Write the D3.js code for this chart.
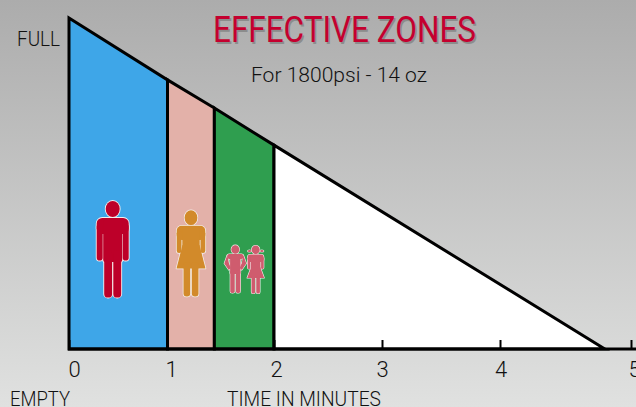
<!DOCTYPE html>
<html>
  <head>
    <meta charset="utf-8" />
    <script src="https://cdn.jsdelivr.net/npm/d3@7"></script>
    <style>
      html, body { margin: 0; padding: 0; }
      svg { display: block; }
      text { font-family: Roboto, "Liberation Sans", sans-serif; font-weight: 300; }
    </style>
  </head>
  <body>
    <div id="container"></div>
    <script>
      // values
      const timeTicks = [0, 1, 2, 3, 4, 5];
      const zoneTimes = [0, 1, 1.44, 2, 4.8];
      const zoneLevels = [100, 81.3, 72.8, 61.6, 0];
      const zoneColors = ["#3ea6e8", "#e3b1a9", "#2f9e4f", "#ffffff"];

      const W = 636, H = 407;
      const svg = d3.select("#container").append("svg").attr("width", W).attr("height", H);

      const defs = svg.append("defs");
      const bg = defs.append("linearGradient").attr("id", "bg").attr("x1", 0).attr("y1", 0).attr("x2", 0).attr("y2", 1);
      bg.append("stop").attr("offset", "0%").attr("stop-color", "#acacac");
      bg.append("stop").attr("offset", "100%").attr("stop-color", "#e0e1e0");
      svg.append("rect").attr("width", W).attr("height", H).attr("fill", "url(#bg)");

      // the tick spacing in the original is not even
      const x = d3.scaleLinear().domain(timeTicks).range([69, 167.5, 274, 382, 500, 631]);
      const y = d3.scaleLinear().domain([0, 100]).range([349, 18]);

      const zones = zoneColors.map((c, i) => ({ color: c, i }));
      const area = (i) =>
        d3.area().x((d) => x(d[0])).y0(y(0)).y1((d) => y(d[1]))([
          [zoneTimes[i], zoneLevels[i]],
          [zoneTimes[i + 1], zoneLevels[i + 1]],
        ]);

      svg.append("g").selectAll("path").data(zones).enter().append("path")
        .attr("d", (d) => area(d.i))
        .attr("fill", (d) => d.color)
        .attr("stroke", "#000")
        .attr("stroke-width", 3)
        .attr("stroke-linejoin", "miter");

      const xAxis = d3.axisBottom(x).tickValues(timeTicks).tickSizeInner(-9).tickSizeOuter(0).tickPadding(11).tickFormat(d3.format("d"));
      const axisG = svg.append("g").attr("transform", `translate(0,${y(0)})`).call(xAxis);
      axisG.select(".domain").remove();
      axisG.append("line").attr("x1", 68).attr("x2", W).attr("stroke", "#000").attr("stroke-width", 3);
      axisG.selectAll(".tick line").attr("stroke", "#000").attr("stroke-width", 2);
      // the labels sit a little right of their ticks in the original
      const tickShift = [5, 3.5, 2, 0, 0.5, 3];
      axisG.selectAll(".tick text")
        .attr("fill", "#111")
        .attr("dx", (d, i) => tickShift[i])
        .attr("dy", "0.78em")
        .style("font-size", "22px")
        .style("font-family", 'Roboto, "Liberation Sans", sans-serif');

      // figures: list of simple shapes, drawn once in white for the outline and once in colour
      function rr(x0, y0, x1, y1, r) { return { t: "rect", x0, y0, x1, y1, r }; }
      function el(cx, cy, rx, ry) { return { t: "ellipse", cx, cy, rx, ry }; }
      function poly(points) { return { t: "poly", points }; }

      function figure(cx, shapes, color, outline) {
        const g = svg.append("g").attr("transform", `translate(${cx},0)`);
        [true, false].forEach((isOutline) => {
          shapes.forEach((s) => {
            let n;
            if (s.t === "rect") n = g.append("rect").attr("x", s.x0).attr("y", s.y0).attr("width", s.x1 - s.x0).attr("height", s.y1 - s.y0).attr("rx", s.r);
            else if (s.t === "ellipse") n = g.append("ellipse").attr("cx", s.cx).attr("cy", s.cy).attr("rx", s.rx).attr("ry", s.ry);
            else n = g.append("polygon").attr("points", s.points);
            n.attr("fill", color);
            if (isOutline) n.attr("stroke", "#f4f0ee").attr("stroke-width", outline).attr("stroke-linejoin", "round");
          });
        });
      }

      figure(112.7, [
        el(0, 209, 7, 8),
        rr(-16, 218, 16, 234, 5.5),
        rr(-16, 224, -10, 260.5, 2.8),
        rr(10, 224, 16, 260.5, 2.8),
        rr(-9.5, 220, 9.5, 262, 2),
        rr(-8.5, 250, -0.6, 297.5, 3.6),
        rr(0.6, 250, 8.5, 297.5, 3.6),
      ], "#bd0029", 1.8);

      figure(191, [
        el(0, 217.7, 6.4, 7.4),
        rr(-14.3, 225.7, 14.3, 240, 5),
        rr(-14.3, 231, -9.5, 253, 2.3),
        rr(9.5, 231, 14.3, 253, 2.3),
        rr(-8.7, 227, 8.7, 250, 1),
        poly("-8.5,245 8.5,245 14.5,268.5 -14.5,268.5"),
        rr(-7.5, 262, -0.8, 296.5, 3),
        rr(0.8, 262, 7.5, 296.5, 3),
      ], "#d28a2a", 1.5);

      figure(235.3, [
        el(0, 249.5, 4, 4.3),
        rr(-8, 254, 8, 259, 2),
        poly("-8,255 -11,263.5 -6.5,270 -4.5,268 -6.5,263 -7,260"),
        poly("8,255 11,263.5 6.5,270 4.5,268 6.5,263 7,260"),
        rr(-5.2, 255, 5.2, 274, 1),
        rr(-5, 270, -0.6, 293, 1.8),
        rr(0.6, 270, 5, 293, 1.8),
      ], "#cf5c6e", 1.2);

      figure(255.7, [
        el(0, 249.8, 4, 4.3),
        el(-6.2, 251, 1.8, 1),
        el(6.2, 251, 1.8, 1),
        rr(-8, 254.5, 8, 262, 2.4),
        rr(-8, 257, -5.4, 269, 1.2),
        rr(5.4, 257, 8, 269, 1.2),
        rr(-4.8, 255, 4.8, 270, 1),
        poly("-4.4,267 4.4,267 8.5,278 -8.5,278"),
        rr(-4.2, 276, -0.6, 293.5, 1.6),
        rr(0.6, 276, 4.2, 293.5, 1.6),
      ], "#cf5c6e", 1.2);

      // titles and labels, squeezed to the condensed widths of the original
      const title = "EFFECTIVE ZONES";
      const addTitle = (dx, dy, color) =>
        svg.append("text").attr("x", 213 + dx).attr("y", 42 + dy)
          .attr("font-size", 36).attr("fill", color).style("font-weight", 400)
          .attr("textLength", 263).attr("lengthAdjust", "spacingAndGlyphs").text(title);
      addTitle(1.5, 1.5, "#8c8c8c");
      addTitle(0, 0, "#c4002f");

      const labels = [
        { s: "For 1800psi - 14 oz", x: 251, y: 82, size: 21, w: 176 },
        { s: "FULL", x: 17, y: 45.5, size: 21, w: 43 },
        { s: "EMPTY", x: 10, y: 405.5, size: 21, w: 60 },
        { s: "TIME IN MINUTES", x: 227, y: 405.5, size: 21, w: 154 },
      ];
      svg.append("g").selectAll("text").data(labels).enter().append("text")
        .attr("x", (d) => d.x).attr("y", (d) => d.y)
        .attr("font-size", (d) => d.size)
        .attr("textLength", (d) => d.w).attr("lengthAdjust", "spacingAndGlyphs")
        .attr("fill", "#111").text((d) => d.s);
    </script>
  </body>
</html>
